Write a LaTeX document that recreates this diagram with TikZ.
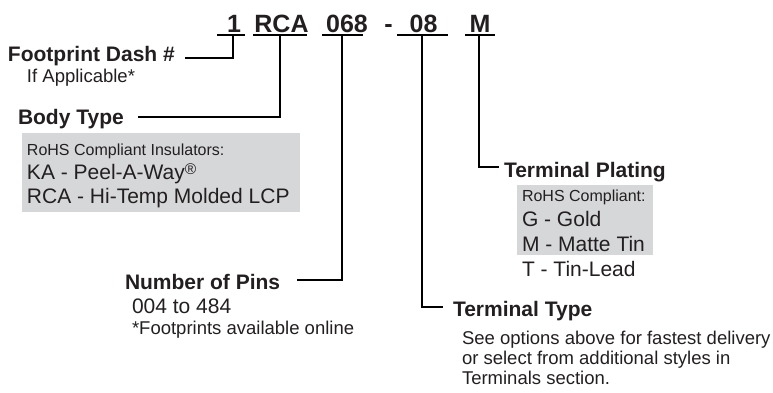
\documentclass[tikz,border=0pt]{standalone}
\usepackage{fontspec}
\setmainfont{Liberation Sans}
\definecolor{txt}{RGB}{35,31,32}
\definecolor{boxgray}{RGB}{214,215,217}
\begin{document}
\begin{tikzpicture}[x=1pt,y=-1pt,
  every node/.style={inner sep=0pt, outer sep=0pt, text=txt},
  code/.style={font=\fontsize{25}{30}\selectfont\bfseries, anchor=base},
  head/.style={font=\fontsize{21}{25}\selectfont\bfseries, anchor=base west},
  big/.style={font=\fontsize{21}{25}\selectfont, anchor=base west},
  mid/.style={font=\fontsize{18.5}{22}\selectfont, anchor=base west},
  small/.style={font=\fontsize{16}{19}\selectfont, anchor=base west},
  conn/.style={draw=black, line width=1.3pt},
  graybox/.style={fill=boxgray, draw=none, anchor=north west}]
\useasboundingbox (0,0) rectangle (773,392);

% gray boxes
\node[graybox, minimum width=278pt, minimum height=79pt] (bodybox) at (22,133) {};
\node[graybox, minimum width=136pt, minimum height=70pt] (platebox) at (517,185) {};

% part number
\node[code] (c1) at (234,32) {1};
\node[code] (crca) at (281.5,32) {RCA};
\node[code] (c068) at (347,32) {068};
\node[code] (cdash) at (388.5,32) {-};
\node[code] (c08) at (423.5,32) {08};
\node[code] (cm) at (480,32) {M};

% underline coordinates
\coordinate (u1a) at (217,35);  \coordinate (u1b) at (245,35);  \coordinate (u1c) at (233,35);
\coordinate (u2a) at (253,35);  \coordinate (u2b) at (307,35);  \coordinate (u2c) at (280,35);
\coordinate (u3a) at (322,35);  \coordinate (u3b) at (363,35);  \coordinate (u3c) at (342,35);
\coordinate (u4a) at (397,35);  \coordinate (u4b) at (448,35);  \coordinate (u4c) at (422,35);
\coordinate (u5a) at (465,35);  \coordinate (u5b) at (495,35);  \coordinate (u5c) at (479,35);

% footprint
\node[head] (fp) at (8,61) {Footprint Dash \#};
\node[mid] (fpsub) at (27,82) {If Applicable*};
\coordinate (fpend) at (185,58);

% body type
\node[head] (body) at (18,124) {Body Type};
\coordinate (bodyend) at (138,117);
\node[small] (b1) at (27,155) {RoHS Compliant Insulators:};
\node[big] (b2) at (27,179) {KA - Peel-A-Way{\fontsize{15.5}{15}\selectfont\raisebox{5pt}{®}}};
\node[big] (b3) at (27,203) {RCA - Hi-Temp Molded LCP};

% number of pins
\node[head] (pins) at (125,289) {Number of Pins};
\coordinate (pinsend) at (297,280);
\node[big] (p1) at (132,313) {004 to 484};
\node[mid] (p2) at (132,334) {*Footprints available online};

% terminal type
\node[head] (ttype) at (453,316) {Terminal Type};
\coordinate (ttypeend) at (443,307);
\node[mid] (t1) at (462,344) {See options above for fastest delivery};
\node[mid] (t2) at (462,364) {or select from additional styles in};
\node[mid] (t3) at (462,384) {Terminals section.};

% terminal plating
\node[head] (tplat) at (504,177) {Terminal Plating};
\coordinate (tplatend) at (499,167);
\node[small] (pl0) at (522,201) {RoHS Compliant:};
\node[big] (pl1) at (522,226) {G - Gold};
\node[big] (pl2) at (522,251) {M - Matte Tin};
\node[big] (pl3) at (522,276) {T - Tin-Lead};

% connectors
\draw[conn] (u1a) -- (u1b);
\draw[conn] (u2a) -- (u2b);
\draw[conn] (u3a) -- (u3b);
\draw[conn] (u4a) -- (u4b);
\draw[conn] (u5a) -- (u5b);
\draw[conn] (u1c) |- (fpend);
\draw[conn] (u2c) |- (bodyend);
\draw[conn] (u3c) |- (pinsend);
\draw[conn] (u4c) |- (ttypeend);
\draw[conn] (u5c) |- (tplatend);
\end{tikzpicture}
\end{document}
